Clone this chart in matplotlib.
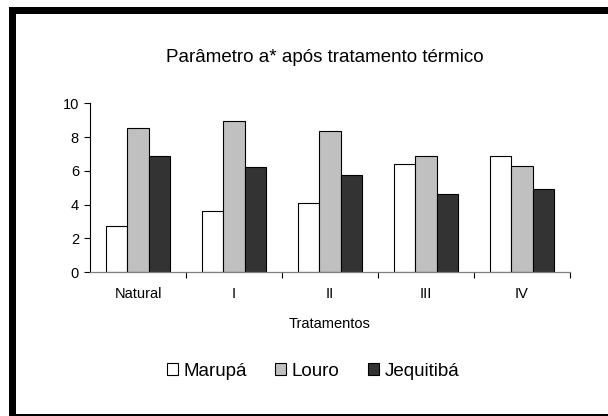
import matplotlib.pyplot as plt
import numpy as np
from matplotlib.patches import Rectangle, Patch

tratamentos = ["Natural", "I", "II", "III", "IV"]
marupa = [2.7, 3.6, 4.1, 6.4, 6.9]
louro = [8.55, 8.95, 8.35, 6.85, 6.3]
jequitiba = [6.9, 6.2, 5.75, 4.6, 4.9]

plt.rcParams['font.family'] = ['Liberation Sans', 'DejaVu Sans']

W, H = 608, 416
fig = plt.figure(figsize=(W / 100, H / 100), dpi=100)

# outer black frame (partly cut off at right/bottom)
fig.add_artist(Rectangle((11.5 / W, -0.5 / H), (W + 40) / W, (H - 9.5 + 0.5) / H,
                         transform=fig.transFigure, fill=False,
                         edgecolor='black', linewidth=7 * 0.72))

ax = fig.add_axes([90 / W, 144 / H, 480 / W, 168.7 / H])

x = np.arange(len(tratamentos))
w = 0.222
series = [(marupa, 'white', 'Marupá'),
          (louro, '#c0c0c0', 'Louro'),
          (jequitiba, '#333333', 'Jequitibá')]
for i, (vals, col, lab) in enumerate(series):
    ax.bar(x + (i - 1) * w, vals, width=w, color=col, edgecolor='black',
           linewidth=0.8, label=lab)

ax.set_xlim(-0.5, len(tratamentos) - 0.5)
ax.set_ylim(0, 10)
ax.set_yticks([0, 2, 4, 6, 8, 10])
ax.set_xticks(x)
ax.set_xticklabels(tratamentos)
ax.set_xticks(np.arange(len(tratamentos)) + 0.5, minor=True)
ax.tick_params(axis='x', which='major', length=0, pad=11, labelsize=10.5)
ax.tick_params(axis='x', which='minor', length=4, width=0.8, color='black', direction='out')
ax.tick_params(axis='y', length=4, width=0.8, pad=4, labelsize=10.5)

for s in ['top', 'right']:
    ax.spines[s].set_visible(False)
ax.spines['bottom'].set_color('#808080')
ax.spines['bottom'].set_linewidth(0.9)
ax.spines['left'].set_linewidth(0.8)

ax.set_xlabel('Tratamentos', fontsize=10.5, labelpad=11)

fig.text(325 / W, 1 - 57 / H, 'Parâmetro a* após tratamento térmico',
         ha='center', va='center', fontsize=13.5)

handles = [Patch(facecolor=c, edgecolor='black', linewidth=0.8, label=l) for _, c, l in series]
fig.legend(handles=handles, loc='center', bbox_to_anchor=(313 / W, 1 - 371 / H),
           ncol=3, frameon=False, fontsize=13.5, handlelength=0.6, handleheight=0.6,
           handletextpad=0.3, columnspacing=1.5)

fig.savefig('out.png', dpi=100)
